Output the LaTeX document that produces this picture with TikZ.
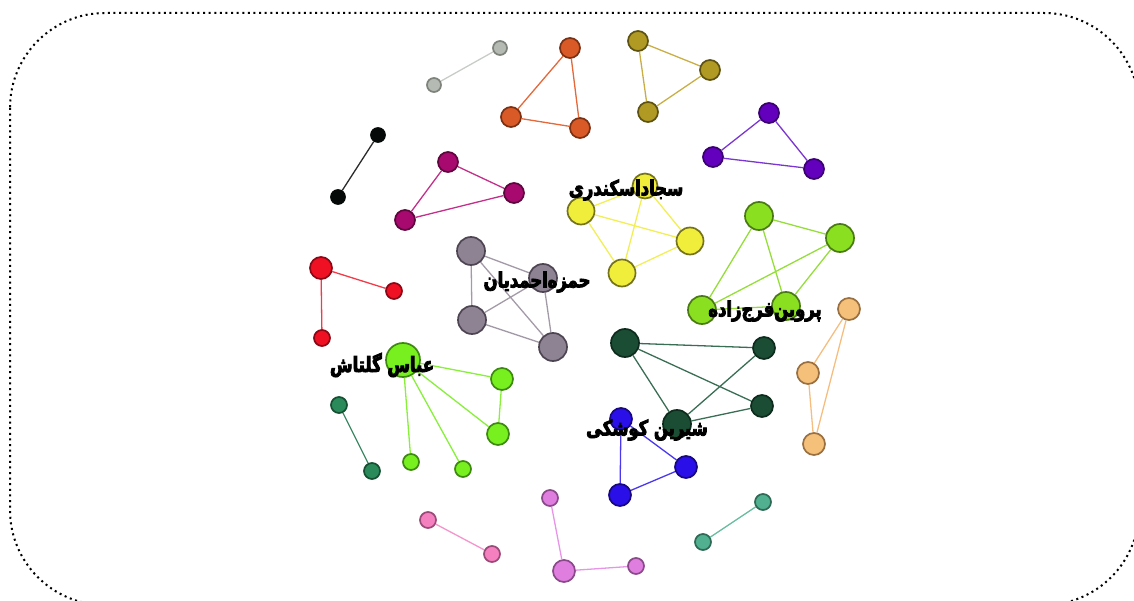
\documentclass[tikz,border=0pt]{standalone}
\usepackage{fontspec}
\usetikzlibrary{backgrounds}
\TeXXeTstate=1
\newfontfamily\fafont[Script=Arabic,FakeBold=4,FakeStretch=0.78]{DejaVu Sans Bold}
\definecolor{cgray}{HTML}{B5BAB3}\definecolor{cgrayd}{HTML}{7E837C}\definecolor{cgrayl}{HTML}{C8CCC6}
\definecolor{corg}{HTML}{D95A26}\definecolor{corgd}{HTML}{7A3013}\definecolor{corgl}{HTML}{E4683A}
\definecolor{coli}{HTML}{B09A24}\definecolor{colid}{HTML}{5E5212}\definecolor{colil}{HTML}{C9AE45}
\definecolor{cpur}{HTML}{6200BD}\definecolor{cpurd}{HTML}{3A0070}\definecolor{cpurl}{HTML}{7A35D2}
\definecolor{cblk}{HTML}{050A08}\definecolor{cblkl}{HTML}{2A2A2A}
\definecolor{cmag}{HTML}{A8096F}\definecolor{cmagd}{HTML}{5E053E}\definecolor{cmagl}{HTML}{C2308A}
\definecolor{cyel}{HTML}{F0EE3A}\definecolor{cyeld}{HTML}{75731C}\definecolor{cyell}{HTML}{F2EE55}
\definecolor{cham}{HTML}{8E8393}\definecolor{chamd}{HTML}{4E4553}\definecolor{chaml}{HTML}{A39AA8}
\definecolor{clg}{HTML}{8AE020}\definecolor{clgd}{HTML}{4A7A12}\definecolor{clgl}{HTML}{95DE3A}
\definecolor{cred}{HTML}{F01024}\definecolor{credd}{HTML}{8A0815}\definecolor{credl}{HTML}{F23A48}
\definecolor{cab}{HTML}{78F020}\definecolor{cabd}{HTML}{3E8A10}\definecolor{cabl}{HTML}{88F03A}
\definecolor{cdg}{HTML}{1A4D33}\definecolor{cdgd}{HTML}{0E2C1D}\definecolor{cdgl}{HTML}{3A6E54}
\definecolor{cblu}{HTML}{2A0FE8}\definecolor{cblud}{HTML}{170880}\definecolor{cblul}{HTML}{4A38F0}
\definecolor{cpea}{HTML}{F5C07A}\definecolor{cpead}{HTML}{9A7040}\definecolor{cpeal}{HTML}{F5BE80}
\definecolor{ctl}{HTML}{2A8A5A}\definecolor{ctld}{HTML}{165033}\definecolor{ctll}{HTML}{3F8A66}
\definecolor{ctm}{HTML}{50B090}\definecolor{ctmd}{HTML}{2E6A55}\definecolor{ctml}{HTML}{6ABDA0}
\definecolor{cpk}{HTML}{F580C0}\definecolor{cpkd}{HTML}{9A4A78}\definecolor{cpkl}{HTML}{F595CC}
\definecolor{cor}{HTML}{E07EE0}\definecolor{cord}{HTML}{8A4A8A}\definecolor{corl}{HTML}{E895E8}
\tikzset{
  vtx/.style={circle, line width=1.7pt, inner sep=0pt},
  lnk/.style={line width=1.3pt},
  lbl/.style={font=\fafont\fontsize{21}{24}\selectfont, text=black, inner sep=0pt},
  frame/.style={draw=black, line width=2pt, dash pattern=on 2pt off 3.6pt, rounded corners=95pt}
}
\begin{document}
\begin{tikzpicture}[x=1pt,y=-1pt]
\useasboundingbox (0,0) rectangle (1134,601);
\begin{scope}
\clip (0,0) rectangle (1134,601);
\draw[frame] (10,13) rectangle (1139,605);
\end{scope}
% nodes
\node[vtx,minimum size=14pt,fill=cgray,draw=cgrayd] (a1) at (434,85) {};
\node[vtx,minimum size=14pt,fill=cgray,draw=cgrayd] (a2) at (500,48) {};
\node[vtx,minimum size=20pt,fill=corg,draw=corgd] (b1) at (570,48) {};
\node[vtx,minimum size=20pt,fill=corg,draw=corgd] (b2) at (511,117) {};
\node[vtx,minimum size=20pt,fill=corg,draw=corgd] (b3) at (580,128) {};
\node[vtx,minimum size=20pt,fill=coli,draw=colid] (c1) at (638,41) {};
\node[vtx,minimum size=20pt,fill=coli,draw=colid] (c2) at (710,70) {};
\node[vtx,minimum size=20pt,fill=coli,draw=colid] (c3) at (648,112) {};
\node[vtx,minimum size=20pt,fill=cpur,draw=cpurd] (d1) at (769,113) {};
\node[vtx,minimum size=20pt,fill=cpur,draw=cpurd] (d2) at (713,157) {};
\node[vtx,minimum size=20pt,fill=cpur,draw=cpurd] (d3) at (814,169) {};
\node[vtx,minimum size=14pt,fill=cblk,draw=cblk] (e1) at (378,135) {};
\node[vtx,minimum size=14pt,fill=cblk,draw=cblk] (e2) at (338,197) {};
\node[vtx,minimum size=20pt,fill=cmag,draw=cmagd] (f1) at (448,162) {};
\node[vtx,minimum size=20pt,fill=cmag,draw=cmagd] (f2) at (514,193) {};
\node[vtx,minimum size=20pt,fill=cmag,draw=cmagd] (f3) at (405,220) {};
\node[vtx,minimum size=25pt,fill=cyel,draw=cyeld] (g1) at (645,186) {};
\node[vtx,minimum size=27pt,fill=cyel,draw=cyeld] (g2) at (581,211) {};
\node[vtx,minimum size=27pt,fill=cyel,draw=cyeld] (g3) at (690,241) {};
\node[vtx,minimum size=27pt,fill=cyel,draw=cyeld] (g4) at (622,273) {};
\node[vtx,minimum size=28pt,fill=cham,draw=chamd] (h1) at (471,251) {};
\node[vtx,minimum size=28pt,fill=cham,draw=chamd] (h2) at (543,278) {};
\node[vtx,minimum size=28pt,fill=cham,draw=chamd] (h3) at (472,320) {};
\node[vtx,minimum size=28pt,fill=cham,draw=chamd] (h4) at (553,347) {};
\node[vtx,minimum size=28pt,fill=clg,draw=clgd] (i1) at (759,216) {};
\node[vtx,minimum size=28pt,fill=clg,draw=clgd] (i2) at (840,238) {};
\node[vtx,minimum size=28pt,fill=clg,draw=clgd] (i3) at (702,310) {};
\node[vtx,minimum size=28pt,fill=clg,draw=clgd] (i4) at (786,306) {};
\node[vtx,minimum size=22pt,fill=cred,draw=credd] (j1) at (321,268) {};
\node[vtx,minimum size=16pt,fill=cred,draw=credd] (j2) at (394,291) {};
\node[vtx,minimum size=16pt,fill=cred,draw=credd] (j3) at (322,338) {};
\node[vtx,minimum size=34pt,fill=cab,draw=cabd] (k0) at (403,360) {};
\node[vtx,minimum size=22pt,fill=cab,draw=cabd] (k1) at (502,379) {};
\node[vtx,minimum size=22pt,fill=cab,draw=cabd] (k2) at (498,434) {};
\node[vtx,minimum size=16pt,fill=cab,draw=cabd] (k3) at (411,462) {};
\node[vtx,minimum size=16pt,fill=cab,draw=cabd] (k4) at (463,469) {};
\node[vtx,minimum size=28pt,fill=cdg,draw=cdgd] (l1) at (625,343) {};
\node[vtx,minimum size=22pt,fill=cdg,draw=cdgd] (l2) at (764,348) {};
\node[vtx,minimum size=22pt,fill=cdg,draw=cdgd] (l3) at (762,406) {};
\node[vtx,minimum size=28pt,fill=cdg,draw=cdgd] (l4) at (677,424) {};
\node[vtx,minimum size=22pt,fill=cblu,draw=cblud] (m1) at (621,419) {};
\node[vtx,minimum size=22pt,fill=cblu,draw=cblud] (m2) at (686,467) {};
\node[vtx,minimum size=22pt,fill=cblu,draw=cblud] (m3) at (620,495) {};
\node[vtx,minimum size=22pt,fill=cpea,draw=cpead] (n1) at (849,309) {};
\node[vtx,minimum size=22pt,fill=cpea,draw=cpead] (n2) at (808,373) {};
\node[vtx,minimum size=22pt,fill=cpea,draw=cpead] (n3) at (814,444) {};
\node[vtx,minimum size=16pt,fill=ctl,draw=ctld] (o1) at (339,405) {};
\node[vtx,minimum size=16pt,fill=ctl,draw=ctld] (o2) at (372,471) {};
\node[vtx,minimum size=16pt,fill=ctm,draw=ctmd] (p1) at (763,502) {};
\node[vtx,minimum size=16pt,fill=ctm,draw=ctmd] (p2) at (703,542) {};
\node[vtx,minimum size=16pt,fill=cpk,draw=cpkd] (q1) at (428,520) {};
\node[vtx,minimum size=16pt,fill=cpk,draw=cpkd] (q2) at (492,554) {};
\node[vtx,minimum size=16pt,fill=cor,draw=cord] (r1) at (550,498) {};
\node[vtx,minimum size=22pt,fill=cor,draw=cord] (r2) at (564,571) {};
\node[vtx,minimum size=16pt,fill=cor,draw=cord] (r3) at (636,566) {};
% edges
\begin{scope}[on background layer]
\draw[lnk,cgrayl] (a1) -- (a2);
\draw[lnk,corgl] (b1) -- (b2) (b2) -- (b3) (b3) -- (b1);
\draw[lnk,colil] (c1) -- (c2) (c2) -- (c3) (c3) -- (c1);
\draw[lnk,cpurl] (d1) -- (d2) (d2) -- (d3) (d3) -- (d1);
\draw[lnk,cblkl] (e1) -- (e2);
\draw[lnk,cmagl] (f1) -- (f2) (f2) -- (f3) (f3) -- (f1);
\draw[lnk,cyell] (g1) -- (g2) (g1) -- (g3) (g1) -- (g4) (g2) -- (g3) (g2) -- (g4) (g3) -- (g4);
\draw[lnk,chaml] (h1) -- (h2) (h1) -- (h3) (h1) -- (h4) (h2) -- (h3) (h2) -- (h4) (h3) -- (h4);
\draw[lnk,clgl] (i1) -- (i2) (i1) -- (i3) (i1) -- (i4) (i2) -- (i3) (i2) -- (i4) (i3) -- (i4);
\draw[lnk,credl] (j1) -- (j2) (j1) -- (j3);
\draw[lnk,cabl] (k0) -- (k1) (k0) -- (k2) (k0) -- (k3) (k0) -- (k4) (k1) -- (k2);
\draw[lnk,cdgl] (l1) -- (l2) (l1) -- (l3) (l1) -- (l4) (l2) -- (l4) (l3) -- (l4);
\draw[lnk,cblul] (m1) -- (m2) (m1) -- (m3) (m2) -- (m3);
\draw[lnk,cpeal] (n1) -- (n2) (n1) -- (n3) (n2) -- (n3);
\draw[lnk,ctll] (o1) -- (o2);
\draw[lnk,ctml] (p1) -- (p2);
\draw[lnk,cpkl] (q1) -- (q2);
\draw[lnk,corl] (r1) -- (r2) (r2) -- (r3);
\end{scope}
% labels
\node[lbl] (t1) at (626,190) {\beginR سجاداسکندری\endR};
\node[lbl] (t2) at (537,282) {\beginR حمزه‌احمدیان\endR};
\node[lbl] (t3) at (765,311) {\beginR پروین‌فرج‌زاده\endR};
\node[lbl] (t4) at (382,365) {\beginR عباس گلتاش\endR};
\node[lbl] (t5) at (647,430) {\beginR شیرین کوشکی\endR};
\end{tikzpicture}
\end{document}
